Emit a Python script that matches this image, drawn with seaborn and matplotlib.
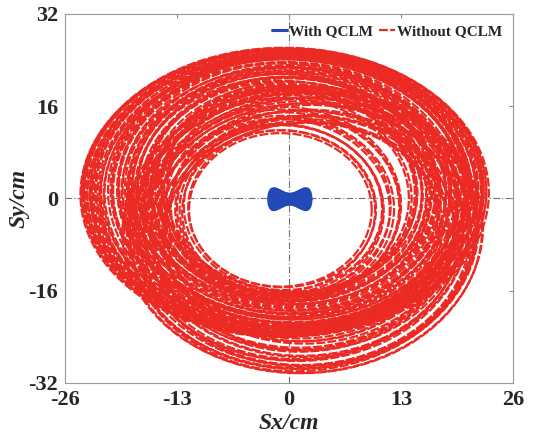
import numpy as np
import pandas as pd
import matplotlib
matplotlib.use("Agg")
import matplotlib.pyplot as plt
import seaborn as sns

# ---------------- data ----------------
x_ticks = [-26, -13, 0, 13, 26]
y_ticks = [-32, -16, 0, 16, 32]
series_names = ["With QCLM", "Without QCLM"]

# "Without QCLM": loops of the trajectory (centre, half-widths, tilt in deg)
# inner loops (edge of the empty hole)
inner_cx = [-1.0, -0.8, -1.2, -0.7, -0.9, -1.1, -0.6, -1.0, -0.8, -0.5, -0.7, -0.9]
inner_cy = [-2.0, -1.8, -2.2, -1.6, -1.9, -2.1, -1.5, -1.8, -1.7, -1.4, -1.2, -1.0]
inner_rx = [10.6, 10.9, 11.2, 11.5, 11.8, 12.1, 12.4, 12.7, 13.0, 13.3, 13.6, 13.9]
inner_ry = [13.3, 13.6, 14.0, 14.3, 14.6, 15.0, 15.3, 15.6, 16.0, 16.3, 16.6, 16.9]
inner_tilt = [0, 1, -1, 2, 0, 1, -1, 2, 1, 0, 2, 1]
# middle loops (dense bands)
mid_cx = [-0.3, 0.2, -0.4, 0.1, -0.2, 0.3, -0.5, 0.0, -0.3, 0.4,
          -0.1, 0.2, -0.4, 0.1, -0.2, 0.3, 0.0, -0.3, 0.2, -0.1,
          -0.2, 0.3, -0.4, 0.0, 0.2, -0.3, 0.1, -0.1, 0.3, -0.5,
          0.0, 0.2, -0.2, 0.1, -0.4, 0.3, -0.1, 0.0, -0.3, 0.2]
mid_cy = [0.4, 1.0, 0.6, 1.4, 0.8, 1.6, 0.9, 1.3, 0.7, 1.5,
          1.1, 0.6, 1.2, 1.7, 0.8, 1.4, 1.0, 1.6, 0.9, 1.3,
          0.5, 1.2, 0.8, 1.5, 1.0, 0.7, 1.6, 1.1, 0.9, 1.4,
          0.6, 1.3, 1.0, 1.7, 0.8, 1.2, 1.5, 0.9, 1.1, 1.3]
mid_rx = [14.2, 14.4, 14.6, 14.8, 15.0, 15.1, 15.3, 15.5, 15.7, 15.9,
          16.0, 16.2, 16.4, 16.5, 16.7, 16.9, 17.0, 17.2, 17.4, 17.5,
          17.7, 17.9, 18.0, 18.2, 18.4, 18.5, 18.7, 18.9, 19.0, 19.2,
          19.4, 19.5, 19.7, 19.9, 20.0, 20.2, 20.4, 20.5, 20.7, 20.9]
mid_ry = [17.0, 17.2, 17.4, 17.6, 17.8, 17.9, 18.1, 18.3, 18.5, 18.7,
          18.8, 19.0, 19.2, 19.3, 19.5, 19.7, 19.8, 20.0, 20.2, 20.3,
          20.5, 20.7, 20.8, 21.0, 21.2, 21.3, 21.5, 21.7, 21.8, 22.0,
          22.2, 22.3, 22.5, 22.7, 22.8, 23.0, 23.2, 23.3, 23.5, 23.7]
mid_tilt = [4, 2, 6, 4, 3, 5, 2, 6, 4, 3,
            5, 2, 6, 3, 4, 5, 2, 6, 3, 4,
            5, 3, 6, 2, 4, 5, 3, 6, 2, 4,
            5, 3, 6, 2, 4, 5, 3, 4, 2, 4]
# outer upper loops
outer_cx = [-0.6, -0.4, -0.8, -0.5, -0.7, -0.3, -0.6, -0.9, -0.4, -0.5, -0.7,
            -0.6, -0.3, -0.8, -0.5, -0.4, -0.7, -0.6, -0.9, -0.5, -0.6, -0.4]
outer_cy = [0.8, 1.2, 0.6, 1.4, 1.0, 0.7, 1.3, 0.9, 1.1, 1.0, 0.8,
            1.2, 0.9, 1.3, 0.7, 1.1, 1.0, 1.4, 0.8, 1.2, 1.0, 0.9]
outer_rx = [20.9, 21.0, 21.2, 21.3, 21.5, 21.6, 21.8, 21.9, 22.1, 22.2, 22.4,
            22.5, 22.6, 22.8, 22.9, 23.0, 23.1, 23.2, 23.3, 23.4, 23.5, 23.6]
outer_ry = [23.3, 23.4, 23.5, 23.6, 23.7, 23.8, 23.9, 24.0, 24.1, 24.2, 24.3,
            24.4, 24.4, 24.5, 24.6, 24.6, 24.7, 24.7, 24.8, 24.8, 24.9, 24.9]
outer_tilt = [-2, -3, -1, -2, -3, -2, -1, -3, -2, -2, -1,
              -2, -3, -1, -2, -3, -2, -1, -3, -2, -2, -1]
# lower shifted loops
low_cx = [1.4, 1.8, 1.2, 2.0, 1.6, 2.2, 1.3, 1.9, 1.5, 1.7, 2.1,
          1.4, 1.8, 1.6, 2.0, 1.3, 1.9, 1.5, 2.2, 1.7, 1.6, 1.8,
          1.5, 1.9, 1.3, 1.7]
low_cy = [-4.6, -5.2, -4.9, -5.8, -5.0, -5.5, -4.8, -5.9, -5.3, -5.6, -5.1,
          -4.7, -5.4, -5.7, -5.0, -5.3, -5.8, -4.9, -5.5, -5.2, -5.6, -5.4,
          -5.0, -5.7, -5.3, -5.5]
low_rx = [15.8, 16.0, 16.3, 16.5, 16.7, 16.9, 17.2, 17.4, 17.6, 17.8, 18.0,
          18.2, 18.4, 18.6, 18.8, 19.0, 19.2, 19.4, 19.6, 19.8, 20.0, 20.2,
          20.3, 20.5, 20.6, 20.8]
low_ry = [18.0, 18.3, 18.7, 19.0, 19.3, 19.7, 20.0, 20.3, 20.6, 21.0, 21.3,
          21.6, 21.9, 22.2, 22.5, 22.8, 23.1, 23.3, 23.6, 23.8, 24.0, 24.2,
          24.4, 24.6, 24.7, 24.8]
low_tilt = [-4, -5, -3, -6, -4, -5, -3, -6, -4, -5, -4,
            -5, -3, -6, -4, -5, -3, -4, -5, -4, -6, -5,
            -4, -3, -5, -4]

# "With QCLM": small bow-tie orbit at the centre
blob_cx = [0.1, 0.1, 0.05, 0.1, 0.15, 0.1, 0.1, 0.1, 0.1, 0.1, 0.1, 0.1, 0.1]
blob_cy = [-0.15, -0.1, -0.2, -0.15, -0.1, -0.15, -0.15, -0.15, -0.15, -0.15, -0.15, -0.15, -0.15]
blob_a = [2.45, 2.3, 2.15, 2.0, 1.85, 1.7, 1.55, 1.4, 1.2, 1.0, 0.8, 0.55, 0.3]
blob_b = [4.2, 3.95, 3.7, 3.45, 3.2, 2.95, 2.7, 2.4, 2.1, 1.75, 1.4, 1.0, 0.6]

# ---------------- build the table ----------------
loop_cx = inner_cx + mid_cx + outer_cx + low_cx
loop_cy = inner_cy + mid_cy + outer_cy + low_cy
loop_rx = inner_rx + mid_rx + outer_rx + low_rx
loop_ry = inner_ry + mid_ry + outer_ry + low_ry
loop_tilt = inner_tilt + mid_tilt + outer_tilt + low_tilt

t = np.linspace(0, 2 * np.pi, 500)
rows = []
for i in range(len(loop_cx)):
    th = t + np.deg2rad((i * 37) % 360)
    phi = np.deg2rad(loop_tilt[i])
    ex = loop_rx[i] * np.cos(th)
    ey = loop_ry[i] * np.sin(th)
    xx = loop_cx[i] + ex * np.cos(phi) - ey * np.sin(phi)
    yy = loop_cy[i] + ex * np.sin(phi) + ey * np.cos(phi)
    rows.append(pd.DataFrame({"x": xx, "y": yy, "series": "Without QCLM", "loop": f"r{i}"}))
for j in range(len(blob_a)):
    xx = blob_cx[j] + blob_a[j] * np.cos(t)
    yy = blob_cy[j] + blob_b[j] * np.sin(t) * (0.2 + 0.8 * np.cos(t) ** 2)
    rows.append(pd.DataFrame({"x": xx, "y": yy, "series": "With QCLM", "loop": f"b{j}"}))
df = pd.concat(rows, ignore_index=True)

# ---------------- plot ----------------
sns.set_theme(style="white")
plt.rcParams["font.family"] = ["Liberation Serif", "DejaVu Serif"]
plt.rcParams["font.weight"] = "bold"

fig = plt.figure(figsize=(5.38, 4.36), dpi=100)
ax = fig.add_axes([0.1208, 0.1216, 0.8327, 0.847])

ax.axhline(0, color="#707070", lw=0.8, ls=(0, (6, 2, 1, 2)), zorder=0.5)
ax.axvline(0, color="#707070", lw=0.8, ls=(0, (6, 2, 1, 2)), zorder=0.5)

sns.lineplot(data=df, x="x", y="y", hue="series", style="series", size="series",
             units="loop", estimator=None, sort=False,
             hue_order=series_names, style_order=series_names, size_order=series_names,
             palette={"With QCLM": "#2348b8", "Without QCLM": "#ec2a24"},
             dashes={"With QCLM": "", "Without QCLM": (4, 1.0)},
             sizes={"With QCLM": 2.2, "Without QCLM": 1.6},
             ax=ax, legend=True)

ax.set_xlim(-26, 26)
ax.set_ylim(-32, 32)
ax.set_xticks(x_ticks)
ax.set_yticks(y_ticks)
ax.set_xticklabels([str(v) for v in x_ticks])
ax.set_yticklabels([str(v) for v in y_ticks])
ax.tick_params(direction="in", length=3, width=0.8, color="#888888",
               labelsize=16, top=True, right=True, pad=5)
for lab in ax.get_xticklabels() + ax.get_yticklabels():
    lab.set_fontweight("bold")
for sp in ax.spines.values():
    sp.set_color("#9a9a9a")
    sp.set_linewidth(0.8)

ax.set_xlabel("Sx/cm", fontsize=17, fontweight="bold", fontstyle="italic", labelpad=2)
ax.set_ylabel("Sy/cm", fontsize=17, fontweight="bold", fontstyle="italic", labelpad=-1)

sns.move_legend(ax, "upper right", bbox_to_anchor=(1.0, 1.0), ncol=2, frameon=False,
                title=None, handlelength=1.0, handletextpad=0.15, columnspacing=0.4,
                borderaxespad=0.3, prop={"size": 11, "weight": "bold"})

fig.savefig("out.png", dpi=100)
